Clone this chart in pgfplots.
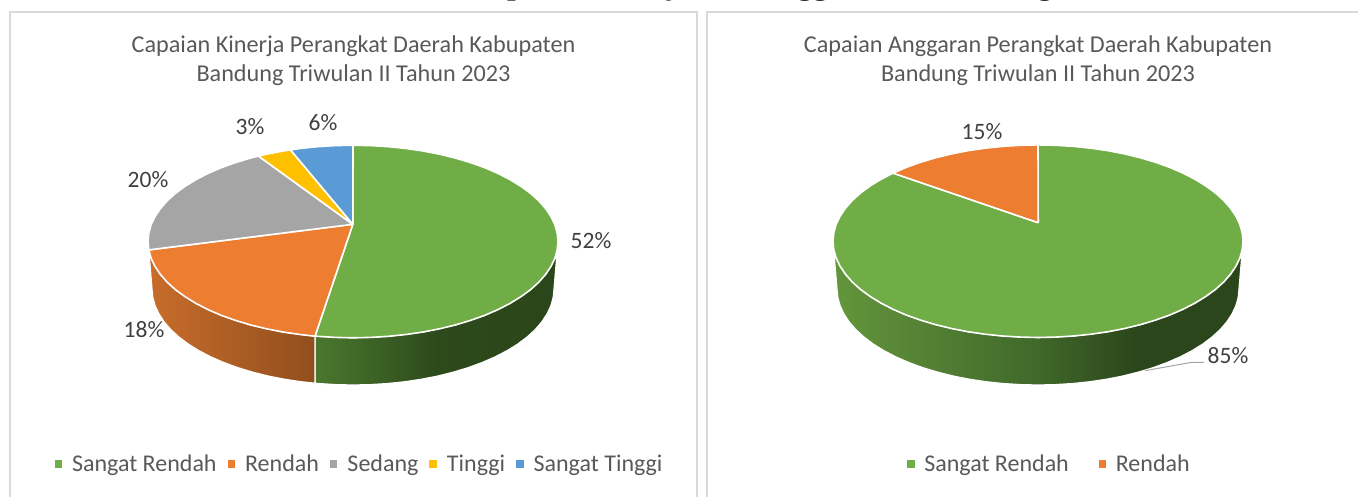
\documentclass[border=0pt]{standalone}
\usepackage{fontspec}
\usepackage{pgfplots}
\pgfplotsset{compat=1.18}
\setmainfont{Carlito}
\newfontfamily\headfont{Liberation Serif}
\definecolor{cgreen}{HTML}{70AD47}
\definecolor{corange}{HTML}{ED7D31}
\definecolor{cgray}{HTML}{A5A5A5}
\definecolor{cyellow}{HTML}{FFC000}
\definecolor{cblue}{HTML}{5B9BD5}
\definecolor{ctext}{HTML}{595959}
\definecolor{clabel}{HTML}{404040}
\definecolor{cframe}{HTML}{D9D9D9}
\definecolor{gA}{HTML}{4A782E}
\definecolor{gB}{HTML}{2D4A1B}
\definecolor{gC}{HTML}{2B461A}
\definecolor{hA}{HTML}{64963C}
\definecolor{hB}{HTML}{40682A}
\definecolor{hC}{HTML}{2C461B}
\definecolor{oA}{HTML}{C86D2B}
\definecolor{oB}{HTML}{914E1E}
\pgfdeclarehorizontalshading{sideGreenA}{100bp}{color(0bp)=(gA); color(25bp)=(gA); color(50bp)=(gB); color(75bp)=(gC); color(100bp)=(gC)}
\pgfdeclarehorizontalshading{sideGreenB}{100bp}{color(0bp)=(hA); color(25bp)=(hA); color(50bp)=(hB); color(62bp)=(hC); color(75bp)=(hC); color(100bp)=(hC)}
\pgfdeclarehorizontalshading{sideOrange}{100bp}{color(0bp)=(oA); color(25bp)=(oA); color(75bp)=(oB); color(100bp)=(oB)}
\tikzset{pctlabel/.style={text=clabel,font=\fontsize{23.5}{26}\selectfont,anchor=center}}
\pgfplotsset{
  panel/.style={
    scale only axis, axis lines=none, y dir=reverse,
    ymin=0, ymax=497, height=497pt, clip=true,
    legend image code/.code={\fill[##1,draw=none] (0pt,-3.7pt) rectangle (7.5pt,3.7pt);},
    title style={align=center,anchor=center,text=ctext,font=\fontsize{24.2}{29}\selectfont},
  },
  wedge/.style={fill=#1,draw=white,line width=1.6pt,line join=round},
  side/.style={shade,shading=#1,draw=white,line width=1.2pt,line join=round,forget plot},
  frame/.style={draw=cframe,line width=2pt,forget plot},
  leader/.style={draw=cgray,line width=1pt,forget plot},
}
\begin{document}
\begin{tikzpicture}
\useasboundingbox (0,0) rectangle (1358pt,497pt);
% ---------- left panel ----------
\begin{axis}[panel, at={(0pt,0pt)}, anchor=south west,
  width=702pt, xmin=0, xmax=702,
  title={Capaian Kinerja Perangkat Daerah Kabupaten\\Bandung Triwulan II Tahun 2023},
  title style={at={(axis cs:353.5,67)}},
  legend style={at={(axis cs:359.5,464)},anchor=center,draw=none,fill=none,
    legend columns=5,text=ctext,font=\fontsize{24}{26}\selectfont,
    /tikz/every odd column/.style={column sep=8pt},
    /tikz/every even column/.style={column sep=9pt}},
]
\addplot[frame] coordinates {(10,497)(10,12.5)(697,12.5)(697,497)};
% sides
\addplot[side=sideGreenA] coordinates {(558,241.5)(554.9,258.2)(545.6,274.4)(530.5,289.7)(510,303.4)(484.8,315.3)(455.5,324.9)(423.1,332)(388.6,336.3)(353,337.8)(317.4,336.3)(315,336.2)(315,383.2)(318.1,383.5)(335.5,384.6)(353,385)(370.5,384.6)(387.9,383.5)(405,381.7)(421.7,379.2)(437.9,376)(453.5,372.1)(468.3,367.6)(482.2,362.5)(495.1,356.9)(507,350.7)(517.7,344.1)(527.1,337)(535.2,329.6)(541.9,321.8)(547.1,313.8)(550.9,305.7)(553.2,297.4)(554,289)(558,241.5)};
\addplot[side=sideOrange] coordinates {(315,336.2)(282.9,332)(250.5,324.9)(221.2,315.3)(196,303.4)(175.5,289.7)(160.4,274.4)(151.1,258.2)(148.8,249.9)(152,289)(152.8,297.4)(155.1,305.7)(158.9,313.8)(164.1,321.8)(170.8,329.6)(178.9,337)(188.3,344.1)(199,350.7)(210.9,356.9)(223.8,362.5)(237.7,367.6)(252.5,372.1)(268.1,376)(284.3,379.2)(301,381.7)(315,383.2)(315,336.2)};
% tops: 52, 18, 20, 3, 6 percent
\addplot[wedge=cgreen] coordinates {(352.8,224.3)(353,145.2)(370.9,145.6)(388.6,146.7)(406.1,148.5)(423.1,151)(439.6,154.2)(455.5,158.1)(470.6,162.6)(484.8,167.7)(498,173.4)(510,179.6)(520.9,186.3)(530.5,193.3)(538.8,200.8)(545.6,208.6)(551,216.6)(554.9,224.8)(557.2,233.1)(558,241.5)(557.2,249.9)(554.9,258.2)(551,266.4)(545.6,274.4)(538.8,282.2)(530.5,289.7)(520.9,296.7)(510,303.4)(498,309.6)(484.8,315.3)(470.6,320.4)(455.5,324.9)(439.6,328.8)(423.1,332)(406.1,334.5)(388.6,336.3)(370.9,337.4)(353,337.8)(335.1,337.4)(317.4,336.3)(315,336.2)(352.8,224.3)};
\addlegendentry{Sangat Rendah}
\addplot[wedge=corange] coordinates {(352.8,224.3)(315,336.2)(299.9,334.5)(282.9,332)(266.4,328.8)(250.5,324.9)(235.4,320.4)(221.2,315.3)(208,309.6)(196,303.4)(185.1,296.7)(175.5,289.7)(167.2,282.2)(160.4,274.4)(155,266.4)(151.1,258.2)(148.8,249.9)(352.8,224.3)};
\addlegendentry{Rendah}
\addplot[wedge=cgray] coordinates {(352.8,224.3)(148.8,249.9)(148,241.5)(148.8,233.1)(151.1,224.8)(155,216.6)(160.4,208.6)(167.2,200.8)(175.5,193.3)(185.1,186.3)(196,179.6)(208,173.4)(221.2,167.7)(235.4,162.6)(250.5,158.1)(258.5,156.1)(352.8,224.3)};
\addlegendentry{Sedang}
\addplot[wedge=cyellow] coordinates {(352.8,224.3)(258.5,156.1)(266.4,154.2)(282.9,151)(290.5,149.9)(352.8,224.3)};
\addlegendentry{Tinggi}
\addplot[wedge=cblue] coordinates {(352.8,224.3)(290.5,149.9)(299.9,148.5)(317.4,146.7)(335.1,145.6)(353,145.2)(352.8,224.3)};
\addlegendentry{Sangat Tinggi}
\node[pctlabel] at (axis cs:591,241) {52\%};
\node[pctlabel] at (axis cs:144,330) {18\%};
\node[pctlabel] at (axis cs:148,180) {20\%};
\node[pctlabel] at (axis cs:250,127) {3\%};
\node[pctlabel] at (axis cs:323,123) {6\%};
\end{axis}
% ---------- right panel ----------
\begin{axis}[panel, at={(702pt,0pt)}, anchor=south west,
  width=656pt, xmin=702, xmax=1358,
  title={Capaian Anggaran Perangkat Daerah Kabupaten\\Bandung Triwulan II Tahun 2023},
  title style={at={(axis cs:1038,67)}},
  legend style={at={(axis cs:1049.5,464)},anchor=center,draw=none,fill=none,
    legend columns=2,text=ctext,font=\fontsize{24}{26}\selectfont,
    /tikz/every odd column/.style={column sep=7.5pt},
    /tikz/every even column/.style={column sep=28pt}},
]
\addplot[frame] coordinates {(706.5,497)(706.5,12.5)(1358,12.5)};
\addplot[side=sideGreenB] coordinates {(1243,241.2)(1239.9,257.9)(1230.6,274.1)(1215.5,289.4)(1195,303.1)(1169.8,315)(1140.5,324.6)(1108.1,331.7)(1073.6,336)(1038,337.5)(1002.4,336)(967.9,331.7)(935.5,324.6)(906.2,315)(881,303.1)(860.5,289.4)(845.4,274.1)(836.1,257.9)(833,241.2)(837,289)(837.8,297.4)(840.1,305.7)(843.9,313.8)(849.1,321.8)(855.8,329.6)(863.9,337)(873.3,344.1)(884,350.7)(895.9,356.9)(908.8,362.5)(922.7,367.6)(937.5,372.1)(953.1,376)(969.3,379.2)(986,381.7)(1003.1,383.5)(1020.5,384.6)(1038,385)(1055.5,384.6)(1072.9,383.5)(1090,381.7)(1106.7,379.2)(1122.9,376)(1138.5,372.1)(1153.3,367.6)(1167.2,362.5)(1180.1,356.9)(1192,350.7)(1202.7,344.1)(1212.1,337)(1220.2,329.6)(1226.9,321.8)(1232.1,313.8)(1235.9,305.7)(1238.2,297.4)(1239,289)(1243,241.2)};
% tops: 85, 15 percent
\addplot[wedge=cgreen] coordinates {(1038.2,222.7)(1038,144.9)(1055.9,145.3)(1073.6,146.4)(1091.1,148.2)(1108.1,150.7)(1124.6,153.9)(1140.5,157.8)(1155.6,162.3)(1169.8,167.4)(1183,173.1)(1195,179.3)(1205.9,186)(1215.5,193)(1223.8,200.5)(1230.6,208.3)(1236,216.3)(1239.9,224.5)(1242.2,232.8)(1243,241.2)(1242.2,249.6)(1239.9,257.9)(1236,266.1)(1230.6,274.1)(1223.8,281.9)(1215.5,289.4)(1205.9,296.4)(1195,303.1)(1183,309.3)(1169.8,315)(1155.6,320.1)(1140.5,324.6)(1124.6,328.5)(1108.1,331.7)(1091.1,334.2)(1073.6,336)(1055.9,337.1)(1038,337.5)(1020.1,337.1)(1002.4,336)(984.9,334.2)(967.9,331.7)(951.4,328.5)(935.5,324.6)(920.4,320.1)(906.2,315)(893,309.3)(881,303.1)(870.1,296.4)(860.5,289.4)(852.2,281.9)(845.4,274.1)(840,266.1)(836.1,257.9)(833.8,249.6)(833,241.2)(833.8,232.8)(836.1,224.5)(840,216.3)(845.4,208.3)(852.2,200.5)(860.5,193)(870.1,186)(881,179.3)(893,173.1)(1038.2,222.7)};
\addlegendentry{Sangat Rendah}
\addplot[wedge=corange] coordinates {(1038.2,222.7)(893,173.1)(906.2,167.4)(920.4,162.3)(935.5,157.8)(951.4,153.9)(967.9,150.7)(984.9,148.2)(1002.4,146.4)(1020.1,145.3)(1038,144.9)(1038.2,222.7)};
\addlegendentry{Rendah}
\addplot[leader] coordinates {(1145,370.7)(1191.7,362.3)(1204,362.3)};
\node[pctlabel] at (axis cs:982,132) {15\%};
\node[pctlabel] at (axis cs:1228,356) {85\%};
\end{axis}
% clipped heading at the top edge of the page
\begin{scope}
\clip (0,0) rectangle (1358pt,497pt);
\node[anchor=base west,inner sep=0pt,text=black,font=\headfont\bfseries\fontsize{31}{31}\selectfont] at (469pt,502.4pt) {Capaian Kinerja dan Anggaran};
\node[anchor=base west,inner sep=0pt,text=black,font=\headfont\bfseries\fontsize{31}{31}\selectfont] at (958pt,502.4pt) {Perangkat Daerah};
\end{scope}
\end{tikzpicture}
\end{document}
